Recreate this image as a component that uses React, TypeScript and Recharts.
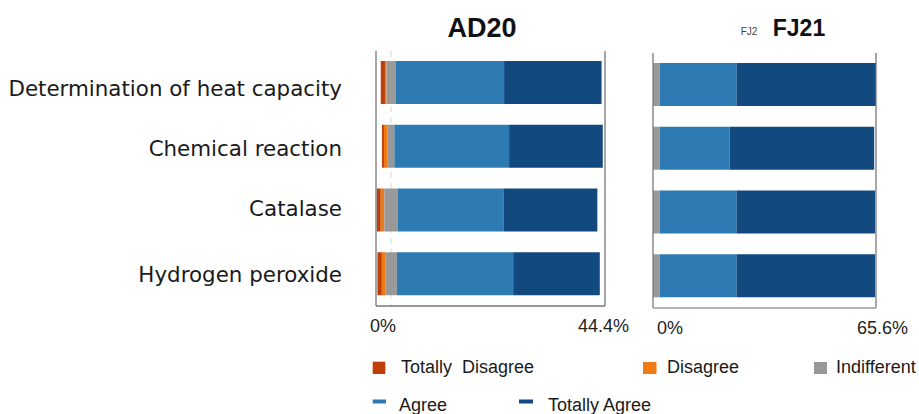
import React from "react";
import { BarChart, Bar, XAxis, YAxis, ReferenceLine, CartesianGrid } from "recharts";

// ---------- data ----------
const categories = [
  "Determination of heat capacity",
  "Chemical reaction",
  "Catalase",
  "Hydrogen peroxide",
];

const seriesNames = ["Totally  Disagree", "Disagree", "Indifferent", "Agree", "Totally Agree"];
const seriesKeys = ["td", "d", "ind", "ag", "ta"];
const seriesColors = ["#BF3F0A", "#EE7A14", "#999999", "#2E7BB4", "#124A80"];

// AD20 (% of responses)
const adTotallyDisagree = [1.9, 0.9, 1.8, 2.0];
const adDisagree = [0.7, 1.7, 1.6, 1.5];
const adIndifferent = [4.1, 3.0, 6.1, 5.3];
const adAgree = [49.1, 51.9, 47.8, 52.6];
const adTotallyAgree = [44.1, 42.4, 42.5, 39.2];

// FJ21 (% of responses)
const fjTotallyDisagree = [0, 0, 0, 0];
const fjDisagree = [0, 0, 0, 0];
const fjIndifferent = [3.0, 3.0, 3.0, 3.0];
const fjAgree = [34.4, 31.4, 34.4, 34.4];
const fjTotallyAgree = [62.6, 64.8, 62.2, 62.2];

// axis settings
const AD_CENTER = 6.8; // neutral midpoint (dashed line)
const AD_MAX = 103.6;
const FJ_CENTER = 1.5;
const FJ_MAX = 100;
const adTickLabels = ["0%", "44.4%"];
const fjTickLabels = ["0%", "65.6%"];

// ---------- helpers ----------
function buildRows(
  td: number[],
  d: number[],
  ind: number[],
  ag: number[],
  ta: number[],
  center: number
) {
  return categories.map((name, i) => ({
    name,
    spacer: Math.max(0, center - td[i] - d[i] - ind[i] / 2),
    td: td[i],
    d: d[i],
    ind: ind[i],
    ag: ag[i],
    ta: ta[i],
  }));
}

const adRows = buildRows(adTotallyDisagree, adDisagree, adIndifferent, adAgree, adTotallyAgree, AD_CENTER);
const fjRows = buildRows(fjTotallyDisagree, fjDisagree, fjIndifferent, fjAgree, fjTotallyAgree, FJ_CENTER);

const SANS = "'Liberation Sans', Arial, Helvetica, sans-serif";
const LINE = "#777777";

const makeXTick =
  (ticks: number[], labels: string[], dxs: number[], dy: number) =>
  (props: any) => {
    const { x, y, payload } = props;
    const idx = ticks.indexOf(payload.value);
    if (idx < 0) return null;
    return (
      <text
        x={x + dxs[idx]}
        y={y + dy}
        textAnchor="middle"
        fontSize={18}
        fontFamily={SANS}
        fill="#222"
      >
        {labels[idx]}
      </text>
    );
  };

const labelNudge = [6, 2, -2, 0];

const YTick = (props: any) => {
  const { x, y, payload } = props;
  const idx = categories.indexOf(payload.value);
  return (
    <text
      x={x}
      y={y + (idx >= 0 ? labelNudge[idx] : 0)}
      textAnchor="end"
      dominantBaseline="central"
      fontSize={21.4}
      fontFamily="'DejaVu Sans', sans-serif"
      fill="#1a1a1a"
    >
      {payload.value}
    </text>
  );
};

function renderBars() {
  return [
    <Bar key="spacer" dataKey="spacer" stackId="s" fill="transparent" isAnimationActive={false} />,
    ...seriesKeys.map((k, i) => (
      <Bar
        key={k}
        dataKey={k}
        name={seriesNames[i]}
        stackId="s"
        fill={seriesColors[i]}
        isAnimationActive={false}
      />
    )),
  ];
}

// legend layout (drawing positions only)
const legendLayout = [
  { x: 372.7, y: 361.7, w: 12.6, h: 12.3, tx: 401, ty: 373.3 },
  { x: 643, y: 362, w: 13.5, h: 12, tx: 667, ty: 373.3 },
  { x: 814, y: 362, w: 13, h: 12, tx: 836, ty: 373.3 },
  { x: 372.7, y: 399.5, w: 13.3, h: 4, tx: 399, ty: 411 },
  { x: 519, y: 399.5, w: 14, h: 4, tx: 548, ty: 411 },
];

const centerGen = (props: any) => {
  const { xAxis, offset } = props || {};
  if (xAxis && typeof xAxis.scale === "function") {
    const v = xAxis.scale(AD_CENTER);
    if (typeof v === "number" && !isNaN(v)) return [v];
  }
  return [offset.left + (AD_CENTER / AD_MAX) * offset.width];
};

export default function App() {
  return (
    <div
      style={{
        position: "absolute",
        left: 0,
        top: 0,
        width: 919,
        height: 414,
        background: "#fff",
        overflow: "hidden",
      }}
    >
      {/* AD20 panel */}
      <div style={{ position: "absolute", left: 0, top: 0 }}>
        <BarChart
          width={640}
          height={346}
          data={adRows}
          layout="vertical"
          margin={{ top: 51, right: 35, bottom: 0, left: 0 }}
          barSize={43}
        >
          <CartesianGrid
            horizontal={false}
            vertical={true}
            stroke="#d6d6d6"
            strokeDasharray="6 5"
            verticalCoordinatesGenerator={centerGen}
          />
          <XAxis
            type="number"
            domain={[0, AD_MAX]}
            ticks={[0, AD_MAX]}
            interval={0}
            tickLine={false}
            tickSize={0}
            axisLine={{ stroke: LINE, strokeWidth: 1.3 }}
            height={40}
            tick={makeXTick([0, AD_MAX], adTickLabels, [7, -1.5], 24)}
          />
          <YAxis
            type="category"
            dataKey="name"
            width={376}
            tickLine={false}
            tickSize={0}
            tickMargin={34}
            axisLine={{ stroke: LINE, strokeWidth: 1.3 }}
            tick={<YTick />}
            interval={0}
          />
          {renderBars()}
          <ReferenceLine x={AD_MAX} stroke={LINE} strokeWidth={1.3} />
        </BarChart>
      </div>

      {/* FJ21 panel */}
      <div style={{ position: "absolute", left: 620, top: 0 }}>
        <BarChart
          width={299}
          height={348}
          data={fjRows}
          layout="vertical"
          margin={{ top: 53, right: 43, bottom: 0, left: 33 }}
          barSize={43}
        >
          <XAxis
            type="number"
            domain={[0, FJ_MAX]}
            ticks={[0, FJ_MAX]}
            interval={0}
            tickLine={false}
            tickSize={0}
            axisLine={{ stroke: "#9a9a9a", strokeWidth: 1.3 }}
            height={40}
            tick={makeXTick([0, FJ_MAX], fjTickLabels, [17, 6.5], 23.5)}
          />
          <YAxis type="category" dataKey="name" hide />
          {renderBars()}
          <ReferenceLine x={0} stroke={LINE} strokeWidth={1.3} />
          <ReferenceLine x={FJ_MAX} stroke={LINE} strokeWidth={1.3} />
        </BarChart>
      </div>

      {/* titles and legend */}
      <svg
        width={919}
        height={414}
        style={{ position: "absolute", left: 0, top: 0, pointerEvents: "none" }}
      >
        <text x={482} y={37.3} textAnchor="middle" fontSize={27} fontWeight="bold" fontFamily={SANS} fill="#111">
          AD20
        </text>
        <text x={749} y={35} textAnchor="middle" fontSize={10} fontFamily={SANS} fill="#444">
          FJ2
        </text>
        <text x={799} y={35.7} textAnchor="middle" fontSize={23} fontWeight="bold" fontFamily={SANS} fill="#111">
          FJ21
        </text>
        {seriesNames.map((n, i) => {
          const L = legendLayout[i];
          return (
            <g key={n}>
              <rect x={L.x} y={L.y} width={L.w} height={L.h} fill={seriesColors[i]} />
              <text
                x={L.tx}
                y={L.ty}
                fontSize={18}
                fontFamily={SANS}
                fill="#1a1a1a"
                style={{ whiteSpace: "pre" }}
              >
                {n}
              </text>
            </g>
          );
        })}
      </svg>
    </div>
  );
}
